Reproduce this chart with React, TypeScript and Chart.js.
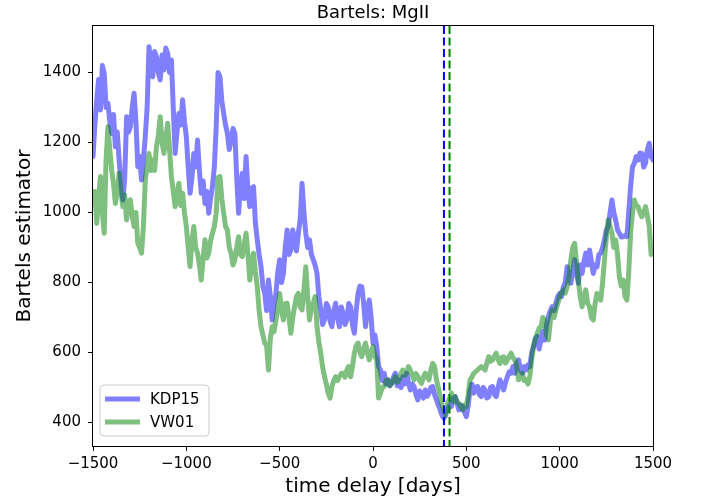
import { useEffect, useRef } from 'react';
import { Chart, registerables } from 'chart.js';

Chart.register(...registerables);

const FONT = "'DejaVu Sans', 'Noto Sans', sans-serif";

// time delay grid [days]: -1500 ... 1500, every 10 days
const lagStart = -1500;
const lagStep = 10;
const lagCount = 301;
const lags = Array.from({ length: lagCount }, (_, i) => lagStart + i * lagStep);

const kdp15 = [
  // -1500 .. -750
  1160, 1250, 1322, 1380, 1293, 1420, 1398, 1300, 1312, 1260,
  1226, 1280, 1188, 1230, 1150, 1080, 1036, 1100, 1274, 1230,
  1245, 1300, 1341, 1260, 1131, 1160, 1093, 1150, 1217, 1300,
  1474, 1420, 1388, 1460, 1445, 1400, 1379, 1450, 1407, 1470,
  1455, 1400, 1436, 1300, 1169, 1230, 1283, 1250, 1322, 1260,
  1217, 1130, 1055, 1100, 1169, 1130, 1207, 1120, 1055, 1090,
  1026, 1060, 998, 1040, 1074, 1130, 1245, 1400, 1388, 1320,
  1283, 1250, 1226, 1180, 1207, 1240,
  // -740 .. 0
  1226, 1100, 998, 1080, 1112, 1040, 1160, 1060, 1017, 1070,
  1074, 970, 922, 880, 846, 790, 769, 720, 807, 760,
  693, 740, 769, 830, 865, 800, 826, 900, 950, 880,
  893, 950, 922, 890, 941, 980, 1084, 1000, 941, 900,
  922, 880, 865, 850, 826, 760, 722, 680, 693, 740,
  731, 690, 674, 720, 741, 700, 674, 730, 712, 680,
  693, 740, 731, 680, 655, 720, 769, 790, 788, 740,
  674, 720, 750, 700, 627,
  // 10 .. 750
  650, 617, 560, 550, 520, 541, 510, 522, 505, 512,
  530, 541, 505, 522, 500, 531, 510, 541, 515, 493,
  510, 503, 480, 465, 490, 484, 470, 493, 475, 484,
  500, 503, 480, 465, 450, 436, 420, 412, 430, 436,
  450, 446, 470, 474, 455, 436, 450, 446, 430, 417,
  450, 493, 510, 484, 500, 503, 480, 474, 500, 493,
  470, 474, 500, 503, 480, 474, 500, 522, 505, 493,
  515, 531, 545, 541, 560,
  // 760 .. 1500
  541, 570, 579, 550, 541, 560, 550, 565, 560, 600,
  617, 640, 646, 610, 636, 660, 636, 680, 703, 720,
  731, 720, 741, 760, 769, 760, 788, 800, 845, 820,
  798, 830, 865, 830, 798, 850, 826, 860, 884, 850,
  893, 860, 826, 850, 845, 880, 884, 900, 922, 950,
  960, 1000, 1036, 1000, 979, 950, 941, 930, 931, 935,
  931, 1000, 1074, 1130, 1141, 1160, 1150, 1170, 1169, 1130,
  1141, 1180, 1198, 1160, 1150,
];

const vw01 = [
  // -1500 .. -750
  1026, 1060, 969, 1040, 1103, 1000, 941, 1150, 1245, 1180,
  1122, 1080, 1026, 1060, 1112, 1060, 1017, 1050, 979, 1030,
  1036, 990, 960, 1000, 912, 900, 884, 960, 1093, 1130,
  1169, 1120, 1150, 1120, 1188, 1220, 1274, 1200, 1169, 1210,
  1255, 1180, 1103, 1060, 1017, 1050, 1084, 1020, 1055, 1000,
  960, 900, 846, 920, 960, 900, 884, 850, 807, 870,
  922, 870, 884, 920, 941, 960, 998, 1100, 1103, 1040,
  998, 960, 950, 900, 884, 850,
  // -740 .. 0
  865, 900, 931, 880, 874, 910, 941, 880, 807, 850,
  884, 830, 788, 720, 674, 650, 627, 620, 550, 640,
  674, 660, 693, 730, 769, 720, 693, 740, 741, 700,
  655, 700, 731, 760, 769, 730, 722, 780, 845, 760,
  693, 730, 741, 760, 674, 630, 598, 560, 531, 510,
  484, 470, 503, 520, 531, 520, 531, 540, 541, 530,
  550, 560, 531, 560, 598, 620, 627, 600, 588, 610,
  627, 600, 579, 600, 617,
  // 10 .. 750
  590, 579, 470, 484, 500, 503, 520, 522, 505, 512,
  520, 531, 515, 522, 540, 550, 535, 541, 560, 550,
  535, 522, 540, 531, 520, 512, 530, 541, 530, 522,
  550, 569, 560, 522, 500, 474, 450, 436, 420, 455,
  470, 484, 460, 474, 460, 455, 445, 436, 450, 446,
  480, 522, 530, 541, 545, 550, 555, 560, 555, 550,
  570, 588, 575, 579, 590, 598, 580, 569, 585, 588,
  570, 579, 590, 598, 585,
  // 760 .. 1500
  579, 560, 522, 530, 541, 520, 522, 510, 531, 580,
  617, 640, 655, 670, 674, 700, 693, 650, 636, 690,
  722, 700, 722, 740, 760, 770, 779, 770, 788, 820,
  865, 900, 912, 860, 807, 760, 731, 760, 779, 740,
  731, 700, 693, 740, 769, 760, 750, 800, 865, 930,
  979, 960, 941, 900, 922, 880, 817, 790, 807, 760,
  750, 830, 941, 1000, 1036, 1020, 1017, 1000, 988, 1000,
  1017, 990, 960, 880, 890,
];

const seriesLabels = ['KDP15', 'VW01'];
const seriesColors = ['rgba(0,0,255,0.5)', 'rgba(0,128,0,0.5)'];
// drawing order: higher is drawn first (VW01 lies on top, as in the reference)
const seriesOrder = [1, 0];
const peakLags = [380, 410];
const peakColors = ['#0000ff', '#008000'];
const yTicks = [400, 600, 800, 1000, 1200, 1400];
const xTicks = [-1500, -1000, -500, 0, 500, 1000, 1500];
const titleText = 'Bartels: MgII';

const overlayPlugin = {
  id: 'overlay',
  afterDatasetsDraw(chart: any) {
    const { ctx, chartArea, scales } = chart;
    const { left, right, top, bottom } = chartArea;
    ctx.save();
    peakLags.forEach((v, i) => {
      const px = scales.x.getPixelForValue(v);
      ctx.beginPath();
      ctx.setLineDash([8, 3.5]);
      ctx.lineWidth = 2;
      ctx.strokeStyle = peakColors[i];
      ctx.moveTo(px, top);
      ctx.lineTo(px, bottom);
      ctx.stroke();
    });
    ctx.setLineDash([]);
    ctx.lineWidth = 1;
    ctx.strokeStyle = '#000';
    ctx.strokeRect(Math.round(left) - 0.5, Math.round(top) - 0.5, Math.round(right - left) + 1, Math.round(bottom - top) + 1);
    // legend
    const bx = left + 7;
    const bw = 109;
    const bh = 51;
    const by = bottom - 10 - bh;
    const r = 4;
    ctx.beginPath();
    ctx.moveTo(bx + r, by);
    ctx.lineTo(bx + bw - r, by);
    ctx.arcTo(bx + bw, by, bx + bw, by + r, r);
    ctx.lineTo(bx + bw, by + bh - r);
    ctx.arcTo(bx + bw, by + bh, bx + bw - r, by + bh, r);
    ctx.lineTo(bx + r, by + bh);
    ctx.arcTo(bx, by + bh, bx, by + bh - r, r);
    ctx.lineTo(bx, by + r);
    ctx.arcTo(bx, by, bx + r, by, r);
    ctx.closePath();
    ctx.fillStyle = 'rgba(255,255,255,0.8)';
    ctx.fill();
    ctx.strokeStyle = '#cccccc';
    ctx.lineWidth = 1;
    ctx.stroke();
    seriesLabels.forEach((lab, i) => {
      const ly = by + 14 + i * 23;
      ctx.beginPath();
      ctx.strokeStyle = seriesColors[i];
      ctx.lineWidth = 5;
      ctx.lineCap = 'butt';
      ctx.moveTo(bx + 5, ly);
      ctx.lineTo(bx + 40, ly);
      ctx.stroke();
      ctx.fillStyle = '#000';
      ctx.font = `15px ${FONT}`;
      ctx.textAlign = 'left';
      ctx.textBaseline = 'middle';
      ctx.fillText(lab, bx + 50, ly + 1);
    });
    ctx.fillStyle = '#000';
    ctx.font = `18px ${FONT}`;
    ctx.textAlign = 'center';
    ctx.textBaseline = 'alphabetic';
    ctx.fillText(titleText, (left + right) / 2, 17.5);
    ctx.restore();
  },
};

export default function App() {
  const ref = useRef<HTMLCanvasElement>(null);
  useEffect(() => {
    document.body.style.margin = '0';
    const canvas = ref.current;
    if (!canvas) return;
    const series = [kdp15, vw01];
    const chart = new Chart(canvas, {
      type: 'line',
      data: {
        datasets: series.map((vals, i) => ({
          label: seriesLabels[i],
          data: lags.map((x, j) => ({ x, y: vals[j] })),
          order: seriesOrder[i],
          borderColor: seriesColors[i],
          backgroundColor: seriesColors[i],
          borderWidth: 5,
          pointRadius: 0,
          pointHoverRadius: 0,
          fill: false,
          tension: 0,
          borderJoinStyle: 'round',
          borderCapStyle: 'round',
          clip: 0,
        })),
      },
      options: {
        responsive: false,
        animation: false,
        events: [],
        layout: { padding: { top: 26, right: 54, left: 0, bottom: 0 } },
        plugins: {
          legend: { display: false },
          tooltip: { enabled: false },
          title: { display: false },
        },
        scales: {
          x: {
            type: 'linear',
            min: -1500,
            max: 1500,
            afterBuildTicks: (s: any) => {
              s.ticks = xTicks.map((v) => ({ value: v }));
            },
            ticks: {
              callback: (v: any) => (v < 0 ? '\u2212' + Math.abs(v) : String(v)),
              font: { family: FONT, size: 15 },
              color: '#000',
              padding: 4,
              maxRotation: 0,
              autoSkip: false,
            },
            grid: { drawOnChartArea: false, drawTicks: true, tickLength: 5, color: '#000', lineWidth: 1 },
            border: { display: false },
            title: {
              display: true,
              text: 'time delay [days]',
              font: { family: FONT, size: 20 },
              color: '#000',
              padding: { top: 0, bottom: 2 },
            },
            afterFit: (s: any) => {
              s.height = 55;
            },
          },
          y: {
            type: 'linear',
            min: 333,
            max: 1533,
            afterBuildTicks: (s: any) => {
              s.ticks = yTicks.map((v) => ({ value: v }));
            },
            ticks: {
              callback: (v: any) => String(v),
              font: { family: FONT, size: 15 },
              color: '#000',
              padding: 7,
              autoSkip: false,
            },
            grid: { drawOnChartArea: false, drawTicks: true, tickLength: 5, color: '#000', lineWidth: 1 },
            border: { display: false },
            title: {
              display: true,
              text: 'Bartels estimator',
              font: { family: FONT, size: 20 },
              color: '#000',
              padding: { top: 13, bottom: 0 },
            },
            afterFit: (s: any) => {
              s.width = 93;
            },
          },
        },
      },
      plugins: [overlayPlugin],
    } as any);
    return () => chart.destroy();
  }, []);
  return <canvas ref={ref} width={707} height={501} style={{ display: 'block' }} />;
}
